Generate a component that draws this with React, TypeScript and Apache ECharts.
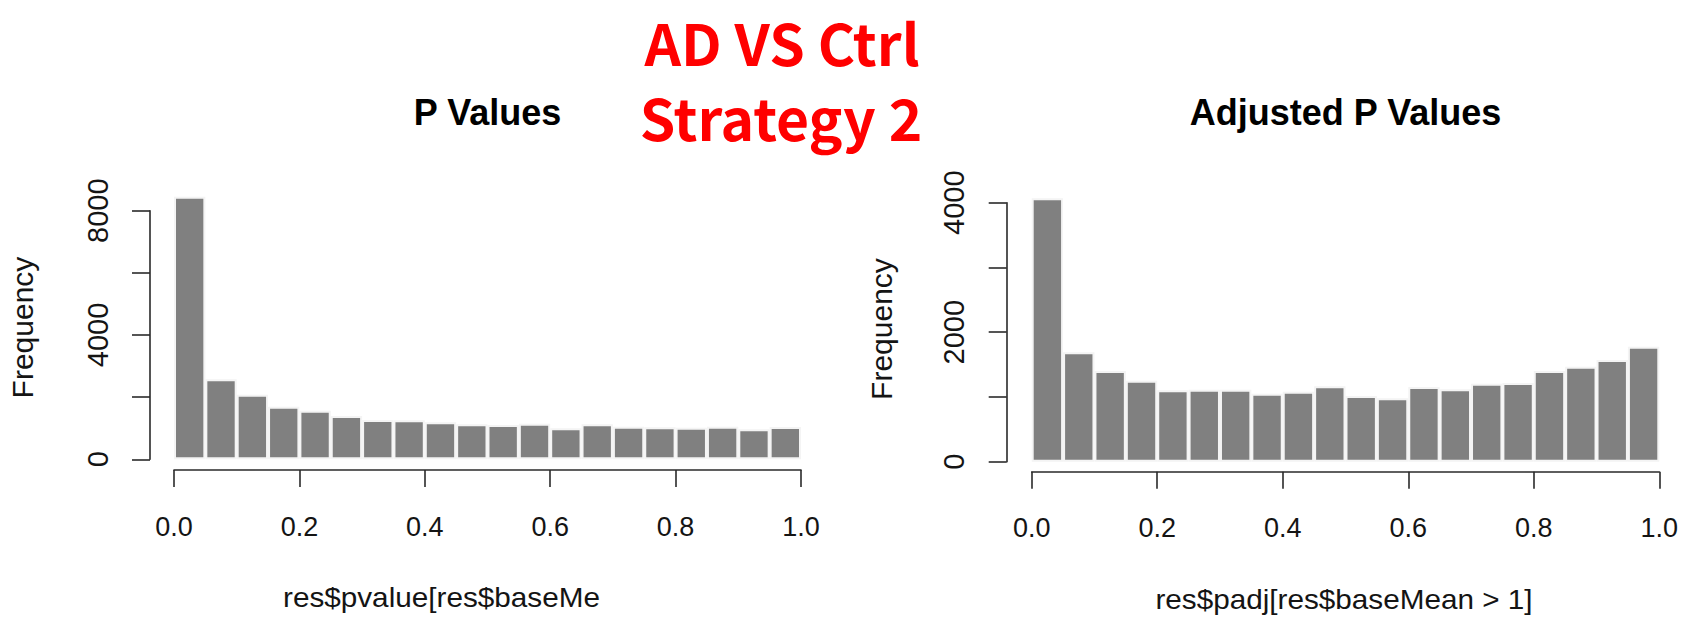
import React, { useEffect, useRef } from "react";
import * as echarts from "echarts";

// Histogram bins (20 bins of width 0.05 on [0, 1])
const binLabels = [
  "0.00", "0.05", "0.10", "0.15", "0.20", "0.25", "0.30", "0.35", "0.40", "0.45",
  "0.50", "0.55", "0.60", "0.65", "0.70", "0.75", "0.80", "0.85", "0.90", "0.95",
];

// Left panel: P Values
const pValueCounts = [
  8450, 2580, 2080, 1690, 1560, 1390, 1265, 1255, 1190, 1125,
  1105, 1145, 1000, 1125, 1050, 1030, 1015, 1050, 965, 1040,
];

// Right panel: Adjusted P Values
const padjCounts = [
  4070, 1690, 1400, 1250, 1105, 1110, 1110, 1050, 1080, 1165,
  1015, 980, 1155, 1120, 1205, 1215, 1400, 1465, 1570, 1775,
];

const leftYTickLabels = ["0", "4000", "8000"];
const rightYTickLabels = ["0", "2000", "4000"];
const xTickLabels = ["0.0", "0.2", "0.4", "0.6", "0.8", "1.0"];

const mainTitle = ["AD VS Ctrl", "Strategy 2"];
const panelTitles = ["P Values", "Adjusted P Values"];
const xNames = ["res$pvalue[res$baseMe", "res$padj[res$baseMean > 1]"];
const yName = "Frequency";

const FONT = "Liberation Sans, Arial, Helvetica, sans-serif";
const AXIS_COLOR = "#2a2a2a";
const TEXT_COLOR = "#141414";
const BAR_COLOR = "#808080";

function xValueAxis(gridIndex: number, offset: number) {
  return {
    gridIndex,
    type: "value",
    position: "bottom",
    min: 0,
    max: 1,
    interval: 0.2,
    offset,
    axisLine: { show: true, onZero: false, lineStyle: { color: AXIS_COLOR, width: 1.6 } },
    axisTick: { show: true, length: 17, lineStyle: { color: AXIS_COLOR, width: 1.6 } },
    axisLabel: {
      margin: 43,
      fontSize: 27,
      fontFamily: FONT,
      color: TEXT_COLOR,
      formatter: (v: number) => {
        const idx = Math.round(v / 0.2);
        return xTickLabels[idx] ?? "";
      },
    },
    splitLine: { show: false },
  };
}

function yValueAxis(gridIndex: number, max: number, interval: number, labels: string[], offset: number) {
  return {
    gridIndex,
    type: "value",
    position: "left",
    min: 0,
    max,
    interval,
    offset,
    axisLine: { show: true, onZero: false, lineStyle: { color: AXIS_COLOR, width: 1.6 } },
    axisTick: { show: true, length: 18, lineStyle: { color: AXIS_COLOR, width: 1.6 } },
    axisLabel: {
      rotate: 90,
      margin: 38,
      fontSize: 29,
      fontFamily: FONT,
      color: TEXT_COLOR,
      formatter: (v: number) => {
        const s = String(Math.round(v));
        return labels.includes(s) ? s : "";
      },
    },
    splitLine: { show: false },
  };
}

function barSeries(xAxisIndex: number, yAxisIndex: number, data: number[]) {
  return {
    type: "bar",
    xAxisIndex,
    yAxisIndex,
    data,
    barCategoryGap: "0%",
    clip: false,
    itemStyle: { color: BAR_COLOR, borderColor: "#f4f4f4", borderWidth: 2 },
    emphasis: { disabled: true },
  };
}

function txt(text: string, x: number, y: number, size: number, opts: any = {}) {
  return {
    type: "text",
    x,
    y,
    rotation: opts.rotation ?? 0,
    scaleX: opts.scaleX ?? 1,
    style: {
      text,
      fontSize: size,
      fontFamily: opts.fontFamily ?? FONT,
      fontWeight: opts.fontWeight ?? "normal",
      fill: opts.fill ?? TEXT_COLOR,
      align: opts.align ?? "center",
      textAlign: opts.align ?? "center",
      verticalAlign: "middle",
      textVerticalAlign: "middle",
    },
  };
}

export default function App() {
  const ref = useRef<HTMLDivElement>(null);

  useEffect(() => {
    if (!ref.current) return;
    const chart = echarts.init(ref.current, null, { renderer: "svg" });
    chart.setOption({
      animation: false,
      backgroundColor: "#ffffff",
      grid: [
        { left: 174, top: 210.7, width: 627, height: 248.6 },
        { left: 1031.7, top: 202.7, width: 627.6, height: 259 },
      ],
      xAxis: [
        { gridIndex: 0, type: "category", data: binLabels, show: false, position: "top", boundaryGap: true },
        xValueAxis(0, 10.7),
        { gridIndex: 1, type: "category", data: binLabels, show: false, position: "top", boundaryGap: true },
        xValueAxis(1, 10),
      ],
      yAxis: [
        yValueAxis(0, 8000, 2000, leftYTickLabels, 24),
        yValueAxis(1, 4000, 1000, rightYTickLabels, 25),
      ],
      series: [barSeries(0, 0, pValueCounts), barSeries(2, 1, padjCounts)],
      graphic: [
        txt(mainTitle[0], 782, 41, 57, { fontFamily: "Noto Sans CJK SC", fontWeight: "bold", fill: "#ff0000" }),
        txt(mainTitle[1], 781, 116, 57, { fontFamily: "Noto Sans CJK SC", fontWeight: "bold", fill: "#ff0000" }),
        txt(panelTitles[0], 487.5, 112, 36, { fontWeight: "bold", fill: "#000000" }),
        txt(panelTitles[1], 1345.5, 112, 36, { fontWeight: "bold", fill: "#000000" }),
        txt(yName, 22.5, 327.5, 30, { rotation: Math.PI / 2 }),
        txt(yName, 881.7, 329, 30, { rotation: Math.PI / 2 }),
        txt(xNames[0], 283, 597, 27, { align: "left", scaleX: 1.1 }),
        txt(xNames[1], 1344, 599.5, 27, { scaleX: 1.1 }),
      ],
    });
    return () => chart.dispose();
  }, []);

  return (
    <div
      ref={ref}
      style={{ position: "fixed", left: 0, top: 0, width: 1683, height: 623, background: "#fff" }}
    />
  );
}
